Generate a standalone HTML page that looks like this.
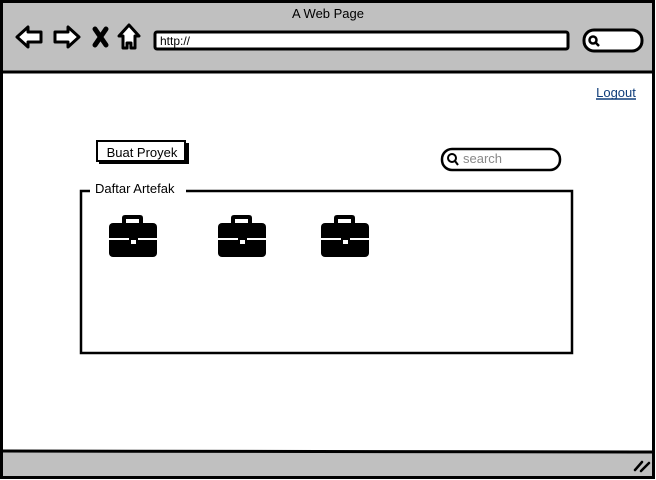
<!DOCTYPE html>
<html><head><style>
html,body{margin:0;padding:0;width:656px;height:480px;overflow:hidden;background:#fff;}
svg{display:block;}
text{font-family:"Comic Sans MS","Liberation Sans",sans-serif;}
</style></head><body>
<svg width="656" height="480" viewBox="0 0 656 480" xmlns="http://www.w3.org/2000/svg">
<defs>
<g id="bc">
<path d="M13,9 V3 Q13,0 16,0 H31 Q34,0 34,3 V9 H30 V4 H17 V9 Z" fill="#000"/>
<rect x="0" y="8" width="48" height="34" rx="4" fill="#000"/>
<rect x="0" y="23" width="48" height="2" fill="#fff"/>
<rect x="20" y="20" width="9" height="11" fill="#000"/>
<rect x="22" y="25" width="5" height="4" fill="#fff"/>
</g>
</defs>
<rect x="0" y="0" width="656" height="480" fill="#fff"/>
<rect x="1.5" y="1.5" width="652" height="70" fill="#c0c0c0"/>
<rect x="1.5" y="452" width="652" height="25" fill="#c0c0c0"/>
<rect x="1.5" y="1.5" width="652" height="476" fill="none" stroke="#000" stroke-width="3"/>
<line x1="1" y1="72" x2="655" y2="72" stroke="#000" stroke-width="3"/>
<line x1="1" y1="451" x2="655" y2="452" stroke="#000" stroke-width="3"/>
<text x="328" y="18" font-size="13" text-anchor="middle" fill="#000">A Web Page</text>
<!-- nav icons -->
<path d="M17,37 L28,27 V32 H41 V42 H28 V47 Z" fill="#fff" stroke="#000" stroke-width="3" stroke-linejoin="round"/>
<path d="M79,37 L68,27 V32 H55 V42 H68 V47 Z" fill="#fff" stroke="#000" stroke-width="3" stroke-linejoin="round"/>
<path d="M95,29 L106,45 M106,29 L95,45" stroke="#000" stroke-width="5" stroke-linecap="round"/>
<path d="M129,25 L139,36 H135 V48 H131 V43 H127 V48 H123 V36 H119 Z" fill="#fff" stroke="#000" stroke-width="3" stroke-linejoin="round"/>
<rect x="155" y="32" width="413" height="17" rx="2" fill="#fff" stroke="#000" stroke-width="3"/>
<text x="160" y="45" font-size="12" fill="#000">http://</text>
<rect x="584" y="30" width="58" height="21" rx="10" fill="#fff" stroke="#000" stroke-width="3"/>
<circle cx="593" cy="40" r="3.5" fill="none" stroke="#000" stroke-width="2.5"/>
<line x1="596" y1="43" x2="599" y2="46" stroke="#000" stroke-width="2.5"/>
<!-- logout -->
<text x="616" y="97" font-size="13" text-anchor="middle" fill="#0f3d7a">Logout</text>
<line x1="596" y1="99" x2="636" y2="99" stroke="#0f3d7a" stroke-width="1.5"/>
<!-- button -->
<rect x="99" y="143" width="90" height="21" fill="#000"/>
<rect x="97" y="141" width="88" height="20" fill="#fff" stroke="#000" stroke-width="2"/>
<text x="142" y="157" font-size="13" text-anchor="middle" fill="#000">Buat Proyek</text>
<!-- search -->
<rect x="442" y="149" width="118" height="21" rx="10" fill="#fff" stroke="#000" stroke-width="2.5"/>
<circle cx="452" cy="158" r="4" fill="none" stroke="#000" stroke-width="2"/>
<line x1="455" y1="161" x2="458" y2="165" stroke="#000" stroke-width="2"/>
<text x="463" y="163" font-size="13" fill="#888">search</text>
<!-- group box -->
<rect x="81" y="191" width="491" height="162" fill="none" stroke="#000" stroke-width="2.5"/>
<rect x="90" y="182" width="96" height="16" fill="#fff"/>
<text x="95" y="193" font-size="13" fill="#000">Daftar Artefak</text>
<use href="#bc" x="109" y="215"/>
<use href="#bc" x="218" y="215"/>
<use href="#bc" x="321" y="215"/>
<!-- resize grip -->
<path d="M635,470 L642,462 M641,471 L649,463" stroke="#000" stroke-width="2.5" stroke-linecap="round"/>
</svg>
</body></html>
